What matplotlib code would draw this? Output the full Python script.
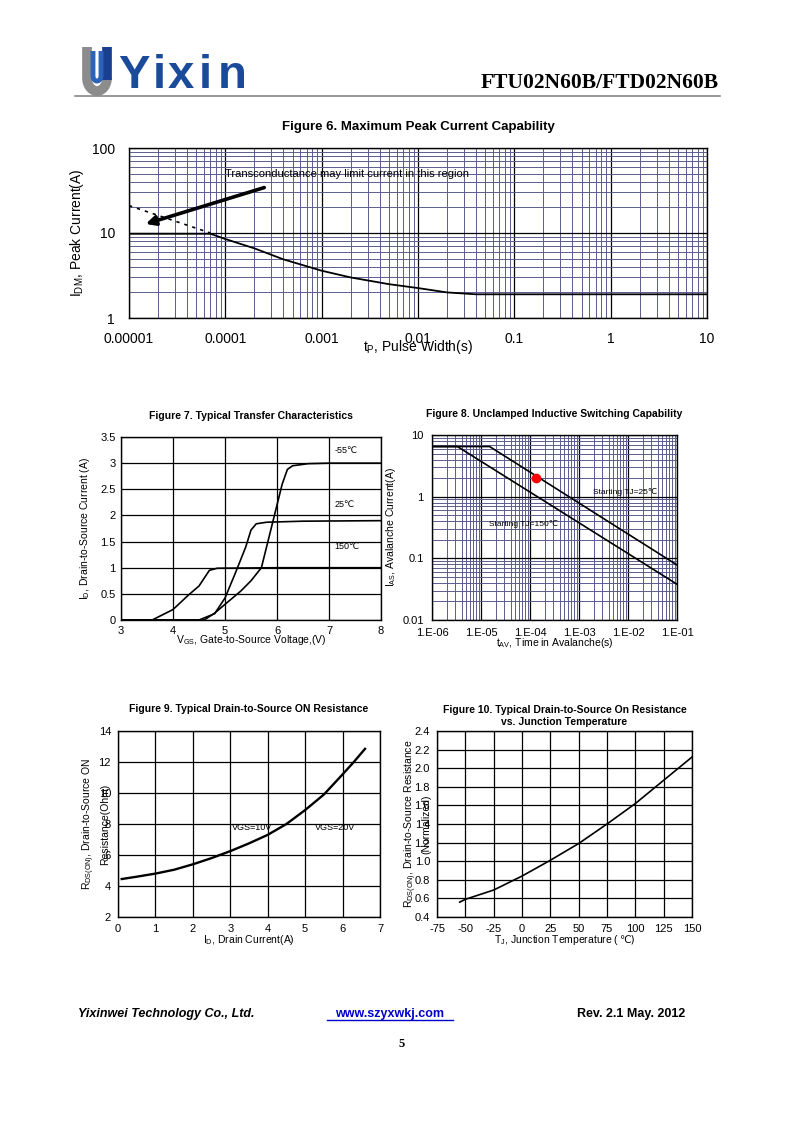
import numpy as np
import matplotlib
matplotlib.use('Agg')
import matplotlib.pyplot as plt
from matplotlib.ticker import FixedLocator, NullFormatter
from matplotlib.offsetbox import TextArea, HPacker, AnnotationBbox

plt.rcParams['font.family'] = ['Liberation Sans', 'DejaVu Sans']
plt.rcParams['mathtext.fontset'] = 'custom'
plt.rcParams['mathtext.rm'] = 'Liberation Sans'
plt.rcParams['mathtext.it'] = 'Liberation Sans:italic'
plt.rcParams['mathtext.bf'] = 'Liberation Sans:bold'
plt.rcParams['mathtext.default'] = 'rm'
plt.rcParams['axes.unicode_minus'] = False

# Figure 6 data
f6_t = [1e-5, 7e-5, 1e-4, 2e-4, 4e-4, 1e-3, 2e-3, 5e-3, 1e-2, 2e-2, 4e-2, 10]
f6_i = [9.8, 9.8, 8.5, 6.6, 4.9, 3.6, 3.0, 2.5, 2.25, 2.0, 1.9, 1.9]
f6_dash_t = [1e-5, 7e-5]
f6_dash_i = [21, 10]
# Figure 7 data
f7_v55 = [3.0, 4.6, 4.8, 5.0, 5.3, 5.5, 5.7, 5.8, 5.9, 6.0, 6.1, 6.2, 6.3, 6.6, 7.0, 8.0]
f7_i55 = [0.0, 0.0, 0.13, 0.3, 0.55, 0.75, 1.0, 1.4, 1.8, 2.2, 2.6, 2.88, 2.95, 2.99, 3.0, 3.0]
f7_v25 = [3.0, 4.5, 4.8, 5.0, 5.2, 5.4, 5.5, 5.6, 5.8, 6.5, 8.0]
f7_i25 = [0.0, 0.0, 0.12, 0.42, 0.9, 1.4, 1.72, 1.84, 1.87, 1.89, 1.9]
f7_v150 = [3.0, 3.6, 4.0, 4.3, 4.5, 4.6, 4.7, 4.85, 6.0, 8.0]
f7_i150 = [0.0, 0.0, 0.2, 0.48, 0.65, 0.8, 0.95, 0.99, 1.0, 1.0]
# Figure 8 data
f8_t25 = [1e-6, 1.5e-5, 1e-1]
f8_i25 = [6.5, 6.5, 0.078]
f8_t150 = [1e-6, 3.3e-6, 1e-1]
f8_i150 = [6.5, 6.5, 0.038]
f8_pt = (1.3e-4, 2.0)
# Figure 9 data
f9_id = [0.1, 0.5, 1, 1.5, 2, 2.5, 3, 3.5, 4, 4.5, 5, 5.5, 6, 6.3, 6.6]
f9_r = [4.45, 4.6, 4.8, 5.05, 5.4, 5.8, 6.25, 6.75, 7.3, 8.0, 8.9, 9.9, 11.2, 12.0, 12.85]
# Figure 10 data
f10_tj = [-55, -50, -25, 0, 25, 50, 75, 100, 125, 150]
f10_r = [0.56, 0.59, 0.69, 0.84, 1.01, 1.19, 1.40, 1.62, 1.87, 2.12]

W, H = 796, 1125
fig = plt.figure(figsize=(W / 100, H / 100), dpi=100)


def box(l, t, r, b):
    return [l / W, 1 - b / H, (r - l) / W, (b - t) / H]


minor_c = '#5c5c8e'


def logstyle(ax):
    ax.grid(which='major', color='black', lw=0.9)
    ax.grid(which='minor', color=minor_c, lw=0.7)
    ax.set_axisbelow(True)
    ax.tick_params(which='both', length=0)
    for s in ax.spines.values():
        s.set_linewidth(1.0)


def linstyle(ax):
    ax.grid(color='black', lw=0.9)
    ax.tick_params(length=0)
    for s in ax.spines.values():
        s.set_linewidth(1.0)


# ---------------- header ----------------
hax = fig.add_axes([0, 0, 1, 1])
hax.set_xlim(0, W)
hax.set_ylim(H, 0)
hax.axis('off')
# logo glyph
th = np.linspace(np.pi, 2 * np.pi, 40)
hax.plot(np.r_[87, 87, 97 + 10 * np.cos(th), 107], np.r_[47, 78, 78 - 13 * np.sin(th), 78],
         color='#8c8c8c', lw=7, solid_capstyle='butt')
hax.plot([107, 107], [47, 80], color='#1a3f8f', lw=7, solid_capstyle='butt')
hax.plot(np.r_[93, 93, 97 + 4 * np.cos(th), 101, 101], np.r_[51, 76, 76 - 5 * np.sin(th), 76, 51],
         color='#2a63b8', lw=3.5, solid_capstyle='butt')
logo_letters = ['Y', 'i', 'x', 'i', 'n']
logo_x = [134, 159, 181, 205, 232]
for ch, lx in zip(logo_letters, logo_x):
    hax.text(lx, 88, ch, fontsize=34, fontweight='bold', color='#1a4a9a',
             ha='center', va='baseline')
hax.text(719, 88, 'FTU02N60B/FTD02N60B', fontsize=15.5, fontweight='bold',
         family='Liberation Serif', ha='right', va='baseline')
hax.plot([75, 720], [96, 96], color='#888888', lw=1.2)

# footer
hax.text(78, 1017, 'Yixinwei Technology Co., Ltd.', fontsize=9, fontweight='bold',
         style='italic', ha='left', va='baseline')
hax.text(390, 1017, 'www.szyxwkj.com', fontsize=9, fontweight='bold', color='#0000cc',
         ha='center', va='baseline')
hax.plot([327, 453], [1019.5, 1019.5], color='#0000cc', lw=1)
hax.text(685, 1017, 'Rev. 2.1 May. 2012', fontsize=9, fontweight='bold', ha='right', va='baseline')
hax.text(402, 1047, '5', fontsize=9, fontweight='bold', family='Liberation Serif',
         ha='center', va='baseline')

# ---------------- Figure 6 ----------------
ax6 = fig.add_axes(box(129, 148, 707, 318))
ax6.set_xscale('log')
ax6.set_yscale('log')
ax6.set_xlim(1e-5, 10)
ax6.set_ylim(1, 100)
logstyle(ax6)
ax6.plot(f6_t, f6_i, color='black', lw=1.3)
ax6.plot(f6_dash_t, f6_dash_i, color='black', lw=1.2, ls=(0, (2, 3)))
ax6.annotate('', xy=(1.4e-5, 12.5), xytext=(2.7e-4, 35),
             arrowprops=dict(arrowstyle='-|>', color='black', lw=2.6, mutation_scale=14))
ax6.text(1.0e-4, 50, 'Transconductance may limit current in this region', fontsize=8,
         ha='left', va='center')
xt6 = [1e-5, 1e-4, 1e-3, 1e-2, 1e-1, 1, 10]
ax6.xaxis.set_major_locator(FixedLocator(xt6))
ax6.set_xticklabels(['0.00001', '0.0001', '0.001', '0.01', '0.1', '1', '10'])
ax6.yaxis.set_major_locator(FixedLocator([1, 10, 100]))
ax6.set_yticklabels(['1', '10', '100'])
ax6.xaxis.set_minor_formatter(NullFormatter())
ax6.yaxis.set_minor_formatter(NullFormatter())
ax6.tick_params(labelsize=10, pad=10)
ax6.set_xlabel('t$_{P}$, Pulse Width(s)', fontsize=10, labelpad=-6)
ax6.set_ylabel('I$_{DM}$, Peak Current(A)', fontsize=10, labelpad=4)
ax6.set_title('Figure 6. Maximum Peak Current Capability', fontsize=9.5,
              fontweight='bold', pad=13)

# ---------------- Figure 7 ----------------
ax7 = fig.add_axes(box(121, 437, 381, 620))
ax7.set_xlim(3, 8)
ax7.set_ylim(0, 3.5)
ax7.set_xticks(np.arange(3, 9, 1))
ax7.set_yticks(np.arange(0, 3.51, 0.5))
ax7.set_yticklabels(['0', '0.5', '1', '1.5', '2', '2.5', '3', '3.5'])
linstyle(ax7)
ax7.plot(f7_v55, f7_i55, color='black', lw=1.2)
ax7.plot(f7_v25, f7_i25, color='black', lw=1.2)
ax7.plot(f7_v150, f7_i150, color='black', lw=1.2)
ax7.text(7.1, 3.25, '-55℃', fontsize=6.5, va='center')
ax7.text(7.1, 2.2, '25℃', fontsize=6.5, va='center')
ax7.text(7.1, 1.4, '150℃', fontsize=6.5, va='center')
ax7.tick_params(labelsize=8, pad=4)
ax7.set_xlabel('V$_{GS}$, Gate-to-Source Voltage,(V)', fontsize=7.5, labelpad=-2)
ax7.set_ylabel('I$_{D}$, Drain-to-Source Current (A)', fontsize=7.5, labelpad=6)
ax7.set_title('Figure 7. Typical Transfer Characteristics', fontsize=7.5,
              fontweight='bold', pad=13)

# ---------------- Figure 8 ----------------
ax8 = fig.add_axes(box(432, 435, 677, 620))
ax8.set_xscale('log')
ax8.set_yscale('log')
ax8.set_xlim(1e-6, 1e-1)
ax8.set_ylim(0.01, 10)
logstyle(ax8)
ax8.plot(f8_t25, f8_i25, color='black', lw=1.2)
ax8.plot(f8_t150, f8_i150, color='black', lw=1.2)
ax8.plot([f8_pt[0]], [f8_pt[1]], 'o', color='#ff0000', ms=6)
ax8.text(1.9e-3, 1.2, 'Starting TJ=25℃', fontsize=6, va='center')
ax8.text(1.45e-5, 0.36, 'Starting TJ=150℃', fontsize=6, va='center')
ax8.xaxis.set_major_locator(FixedLocator([1e-6, 1e-5, 1e-4, 1e-3, 1e-2, 1e-1]))
ax8.set_xticklabels(['1.E-06', '1.E-05', '1.E-04', '1.E-03', '1.E-02', '1.E-01'])
ax8.yaxis.set_major_locator(FixedLocator([0.01, 0.1, 1, 10]))
ax8.set_yticklabels(['0.01', '0.1', '1', '10'])
ax8.xaxis.set_minor_formatter(NullFormatter())
ax8.yaxis.set_minor_formatter(NullFormatter())
ax8.tick_params(labelsize=8, pad=6)
ax8.set_xlabel('t$_{AV}$, Time in Avalanche(s)', fontsize=7.5, labelpad=-2)
ax8.set_ylabel('I$_{AS}$, Avalanche Current(A)', fontsize=7.5, labelpad=3)
ax8.set_title('Figure 8. Unclamped Inductive Switching Capability', fontsize=7.5,
              fontweight='bold', pad=13)

# ---------------- Figure 9 ----------------
ax9 = fig.add_axes(box(118, 731, 380, 917))
ax9.set_xlim(0, 7)
ax9.set_ylim(2, 14)
ax9.set_xticks(np.arange(0, 8, 1))
ax9.set_yticks(np.arange(2, 15, 2))
linstyle(ax9)
ax9.plot(f9_id, f9_r, color='black', lw=1.7)
ax9.text(3.05, 7.75, 'VGS=10V', fontsize=6.5, va='center')
ax9.text(5.25, 7.75, 'VGS=20V', fontsize=6.5, va='center')
ax9.tick_params(labelsize=8, pad=5)
ax9.set_xlabel('I$_{D}$, Drain Current(A)', fontsize=7.5, labelpad=-1)
ax9.set_ylabel('R$_{DS(ON)}$, Drain-to-Source ON\nResistance(Ohm)', fontsize=7.5,
               labelpad=-8, linespacing=1.3)
ax9.set_title('Figure 9. Typical Drain-to-Source ON Resistance', fontsize=7.5,
              fontweight='bold', pad=14)

# ---------------- Figure 10 ----------------
ax10 = fig.add_axes(box(437, 731, 692, 917))
ax10.set_xlim(-75, 150)
ax10.set_ylim(0.4, 2.4)
ax10.set_xticks(np.arange(-75, 151, 25))
ax10.set_yticks(np.arange(0.4, 2.41, 0.2))
ax10.set_yticklabels(['%.1f' % v for v in np.arange(0.4, 2.41, 0.2)])
linstyle(ax10)
ax10.plot(f10_tj, f10_r, color='black', lw=1.2)
ax10.tick_params(labelsize=8, pad=5)
# x label built from two pieces so the degree sign can use a font that has it
xl1 = TextArea('T$_{J}$, Junction Temperature (', textprops=dict(fontsize=7.5))
xl2 = TextArea('℃)', textprops=dict(fontsize=7.5, family=['DejaVu Sans']))
xlab = HPacker(children=[xl1, xl2], align='baseline', pad=0, sep=0)
ax10.add_artist(AnnotationBbox(xlab, (0.5, 0), xycoords='axes fraction', xybox=(0, -11.5),
                               boxcoords='offset points', frameon=False,
                               box_alignment=(0.5, 1)))
ax10.set_ylabel('R$_{DS(ON)}$, Drain-to-Source Resistance\n(Normalized)', fontsize=7.5,
                labelpad=-12, linespacing=1.3)
ax10.set_title('Figure 10. Typical Drain-to-Source On Resistance\nvs. Junction Temperature',
               fontsize=7.5, fontweight='bold', pad=4, linespacing=1.35)

fig.savefig('out.png', dpi=100, facecolor='white')
